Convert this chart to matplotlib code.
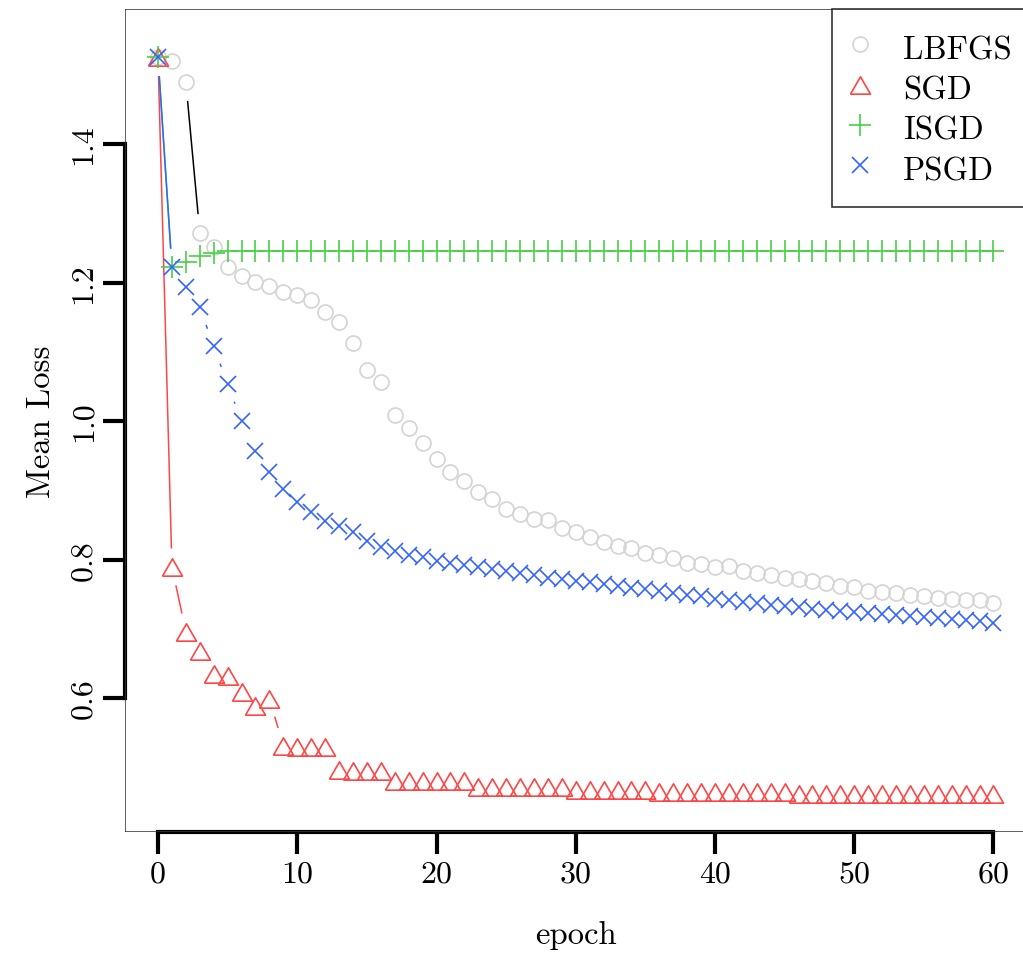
import numpy as np
import matplotlib
matplotlib.use('Agg')
import matplotlib.pyplot as plt
from matplotlib.collections import LineCollection
from matplotlib.lines import Line2D
from matplotlib.patches import Rectangle

plt.rcParams['font.family'] = 'cmr10'
plt.rcParams['mathtext.fontset'] = 'cm'
plt.rcParams['axes.unicode_minus'] = False

epochs = np.arange(61)

lbfgs = [1.525, 1.520, 1.489, 1.272, 1.251, 1.223, 1.209, 1.201, 1.195, 1.187,
         1.182, 1.175, 1.157, 1.143, 1.112, 1.073, 1.057, 1.009, 0.990, 0.969,
         0.945, 0.927, 0.914, 0.897, 0.887, 0.873, 0.866, 0.859, 0.857, 0.845,
         0.840, 0.832, 0.826, 0.820, 0.816, 0.810, 0.806, 0.802, 0.795, 0.794,
         0.789, 0.790, 0.784, 0.781, 0.778, 0.774, 0.772, 0.769, 0.766, 0.762,
         0.760, 0.755, 0.753, 0.752, 0.749, 0.747, 0.744, 0.743, 0.742, 0.742,
         0.737]
sgd = [1.525, 0.789, 0.696, 0.668, 0.635, 0.632, 0.609, 0.589, 0.599, 0.531,
       0.529, 0.529, 0.529, 0.496, 0.495, 0.495, 0.495, 0.480, 0.480, 0.480,
       0.480, 0.480, 0.480, 0.472, 0.472, 0.472, 0.472, 0.472, 0.472, 0.472,
       0.467, 0.467, 0.467, 0.467, 0.467, 0.467, 0.464, 0.464, 0.464, 0.464,
       0.464, 0.464, 0.464, 0.464, 0.464, 0.464, 0.462, 0.462, 0.462, 0.462,
       0.462, 0.462, 0.462, 0.462, 0.462, 0.462, 0.462, 0.461, 0.461, 0.461,
       0.461]
isgd = [1.525, 1.222, 1.229, 1.239, 1.243, 1.245, 1.245, 1.245, 1.245, 1.245,
        1.245, 1.245, 1.245, 1.245, 1.245, 1.245, 1.245, 1.245, 1.245, 1.245,
        1.245, 1.245, 1.245, 1.245, 1.245, 1.245, 1.245, 1.245, 1.245, 1.245,
        1.245, 1.245, 1.245, 1.245, 1.245, 1.245, 1.245, 1.245, 1.245, 1.245,
        1.245, 1.245, 1.245, 1.245, 1.245, 1.245, 1.245, 1.245, 1.245, 1.245,
        1.245, 1.245, 1.245, 1.245, 1.245, 1.245, 1.245, 1.245, 1.245, 1.245,
        1.245]
psgd = [1.525, 1.222, 1.193, 1.164, 1.108, 1.053, 1.000, 0.957, 0.926, 0.902,
        0.883, 0.868, 0.856, 0.849, 0.840, 0.827, 0.818, 0.812, 0.807, 0.804,
        0.798, 0.795, 0.792, 0.789, 0.786, 0.783, 0.780, 0.777, 0.774, 0.772,
        0.769, 0.767, 0.764, 0.762, 0.759, 0.757, 0.754, 0.752, 0.749, 0.747,
        0.743, 0.741, 0.739, 0.737, 0.735, 0.733, 0.731, 0.729, 0.727, 0.726,
        0.724, 0.723, 0.721, 0.720, 0.718, 0.717, 0.715, 0.714, 0.712, 0.711,
        0.709]

names = ['LBFGS', 'SGD', 'ISGD', 'PSGD']
xticks = [0, 10, 20, 30, 40, 50, 60]
yticks = [0.6, 0.8, 1.0, 1.2, 1.4]

tri = [(-1, -0.866), (1, -0.866), (0, 0.866), (-1, -0.866)]
# point colour, line colour, marker, marker size
styles = [('#d4d4d4', 'black', 'o', 10.8),
          ('#ff4545', '#ff4545', tri, 14.4),
          ('#45d045', '#45d045', '+', 15.6),
          ('#3563ff', '#3563ff', 'x', 11.0)]

fig = plt.figure(figsize=(10.23, 9.54), dpi=100)
ax = fig.add_axes([0.1218, 0.1268, 0.882, 0.8627])
ax.set_xlim(-2.4, 62.4)
ax.set_ylim(0.4065, 1.595)


def gap_lines(ax, x, y, color, gap=18.6):
    # R type="b": segments between points, cut back near each point
    pts = ax.transData.transform(np.column_stack([x, y]))
    segs = []
    for p0, p1 in zip(pts[:-1], pts[1:]):
        d = p1 - p0
        L = np.hypot(d[0], d[1])
        if L > 2 * gap:
            u = d / L
            seg = np.array([p0 + u * gap, p1 - u * gap])
            segs.append(ax.transData.inverted().transform(seg))
    ax.add_collection(LineCollection(segs, colors=color, linewidths=1.1))


handles = []
for data, name, (pc, lc, mk, ms) in zip([lbfgs, sgd, isgd, psgd], names, styles):
    gap_lines(ax, epochs, data, lc)
    ax.plot(epochs, data, linestyle='none', marker=mk, markersize=ms,
            markerfacecolor='none', markeredgecolor=pc, markeredgewidth=1.2)
    handles.append(Line2D([], [], linestyle='none', marker=mk, markersize=ms,
                          markerfacecolor='none', markeredgecolor=pc,
                          markeredgewidth=1.2, label=name))

# thin box + thick R-style axes only over tick range
for s in ax.spines.values():
    s.set_visible(False)
ax.add_patch(Rectangle((0, 0), 1, 1, transform=ax.transAxes, fill=False,
                       edgecolor='#333333', linewidth=1.1, zorder=5))
ax.spines['left'].set_visible(True)
ax.spines['bottom'].set_visible(True)
ax.spines['left'].set_bounds(0.6, 1.4)
ax.spines['bottom'].set_bounds(0, 60)
ax.spines['left'].set_linewidth(3)
ax.spines['bottom'].set_linewidth(3)

ax.set_xticks(xticks)
ax.set_xticklabels([str(t) for t in xticks])
ax.set_yticks(yticks)
ax.set_yticklabels(['%.1f' % t for t in yticks], rotation=90, va='center')
ax.tick_params(axis='both', length=15.5, width=3, labelsize=23, direction='out')
ax.tick_params(axis='x', pad=5)
ax.tick_params(axis='y', pad=4)

ax.text(0.5, -0.124, 'epoch', transform=ax.transAxes, ha='center',
        va='center', fontsize=23.5)
ax.text(-0.092, 0.5, 'Mean Loss', transform=ax.transAxes, ha='center',
        va='center', rotation=90, fontsize=23.5)

leg = ax.legend(handles=handles, loc='upper right', borderaxespad=0,
                bbox_to_anchor=(1.0066, 1.0),
                fontsize=23.5, frameon=True, fancybox=False, edgecolor='black',
                borderpad=0.65, handlelength=0.42, handleheight=1.25,
                handletextpad=1.1, labelspacing=0.175)
leg.get_frame().set_linewidth(1.2)

fig.savefig('out.png', dpi=100)
